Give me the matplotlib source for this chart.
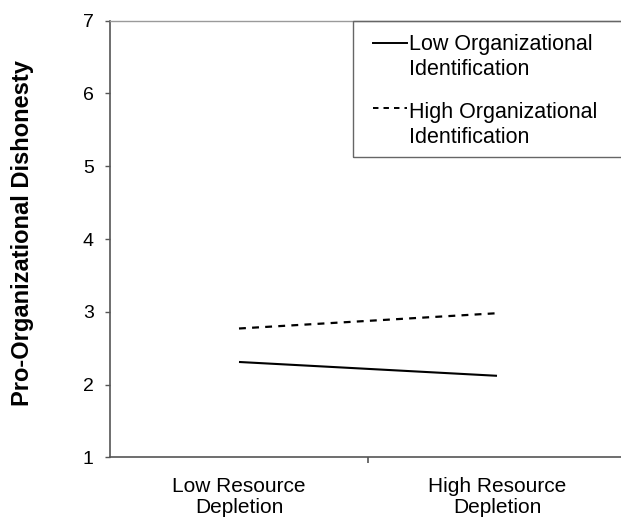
import matplotlib
matplotlib.use("Agg")
import matplotlib.pyplot as plt
from matplotlib.lines import Line2D
from matplotlib.patches import Rectangle

plt.rcParams['font.family'] = ['Liberation Sans', 'DejaVu Sans']

# ---- data ----
categories = ["Low Resource\nDepletion", "High Resource\nDepletion"]
series_names = ["Low Organizational\nIdentification", "High Organizational\nIdentification"]
low_identification = [2.31, 2.12]
high_identification = [2.77, 2.98]
y_ticks = [1, 2, 3, 4, 5, 6, 7]
y_label = "Pro-Organizational Dishonesty"

W, H = 621, 519
fig = plt.figure(figsize=(W / 100, H / 100), dpi=100)

def fx(px):
    return px / W

def fy(py):
    return 1 - py / H

ax = fig.add_axes([fx(110), fy(457.3), fx(626) - fx(110), fy(20.7) - fy(457.3)])

cat_pos = [0.5, 1.5]
styles = [dict(ls='-', lw=1.5), dict(ls=(0, (3.1, 2.8)), lw=1.6)]
series = [low_identification, high_identification]
for vals, st in zip(series, styles):
    ax.plot(cat_pos, vals, color='black', ls=st['ls'], lw=st['lw'], solid_capstyle='butt')

ax.set_xlim(0, 2)
ax.set_ylim(1, 7)
ax.set_yticks(y_ticks)
ax.set_yticklabels([str(v) for v in y_ticks])
ax.set_xticks([1])
ax.set_xticklabels([""])
ax.set_xticks(cat_pos, minor=True)
ax.set_xticklabels(categories, minor=True, fontsize=15, linespacing=1.12)
ax.tick_params(axis='x', which='minor', length=0, pad=14)
ax.tick_params(axis='x', which='major', length=4.5, width=1.2, color='#555555', direction='out')
ax.tick_params(axis='y', length=3.8, width=1.0, color='#555555', direction='out', pad=8, labelsize=14)

for s in ['left', 'bottom']:
    ax.spines[s].set_color('#555555')
    ax.spines[s].set_linewidth(1.2)
ax.spines['top'].set_color('#9a9a9a')
ax.spines['top'].set_linewidth(1.0)
ax.spines['right'].set_visible(False)

fig.text(fx(23), fy(233.5), y_label, rotation=90, ha='center', va='center',
         fontsize=17, fontweight='bold')

# legend box (extends beyond right edge as in reference)
rect = Rectangle((fx(352.7), fy(156.7)), fx(700) - fx(352.7), fy(20.7) - fy(156.7),
                 transform=fig.transFigure, fill=False, edgecolor='#666666', lw=1.0)
fig.add_artist(rect)

handle_y = [43, 108]
text_base = [50, 118]
handle_styles = ['-', (0, (2.8, 2.6))]
for name, hs, hy, tb in zip(series_names, handle_styles, handle_y, text_base):
    ln = Line2D([fx(373), fx(407)], [fy(hy), fy(hy)], transform=fig.transFigure,
                color='black', ls=hs, lw=1.4)
    fig.add_artist(ln)
    fig.text(fx(409), fy(tb), name.split("\n")[0], fontsize=15.5, va='baseline', ha='left')
    fig.text(fx(409), fy(tb + 25), name.split("\n")[1], fontsize=15.5, va='baseline', ha='left')

fig.savefig("out.png", dpi=100)
